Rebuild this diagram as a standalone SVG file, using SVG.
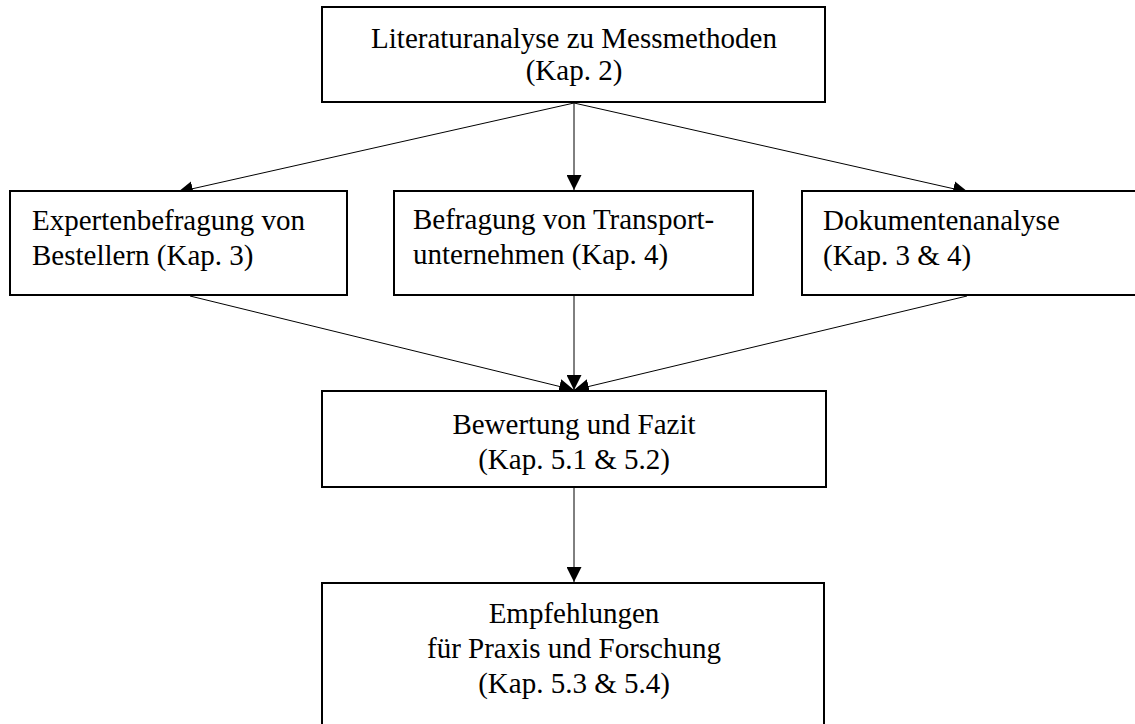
<svg xmlns="http://www.w3.org/2000/svg" width="1135" height="724" viewBox="0 0 1135 724">
<style>
.box{fill:#fff;stroke:#000;stroke-width:2}
.t{font-family:"Liberation Serif","Times New Roman",serif;font-size:29px;fill:#000}
.c{text-anchor:middle}
.conn{stroke:#000;stroke-width:1;fill:none;marker-end:url(#ah)}
</style>
<defs>
<marker id="ah" markerUnits="userSpaceOnUse" markerWidth="15" markerHeight="15" viewBox="0 0 15 15" refX="15" refY="7.5" orient="auto">
<path d="M0,0 L15,7.5 L0,15 z" fill="#000"/>
</marker>
</defs>
<rect width="1135" height="724" fill="#fff"/>
<g id="connectors">
<line class="conn" x1="574" y1="103" x2="178" y2="192"/>
<line class="conn" x1="574" y1="103" x2="574" y2="190"/>
<line class="conn" x1="574" y1="103" x2="968" y2="192"/>
<line class="conn" x1="190" y1="296" x2="574" y2="390"/>
<line class="conn" x1="574" y1="296" x2="574" y2="390"/>
<line class="conn" x1="967" y1="296" x2="574" y2="390"/>
<line class="conn" x1="574" y1="488" x2="574" y2="582"/>
</g>
<g id="n1">
<rect class="box" x="322" y="7" width="503" height="95"/>
<text class="t c" x="574" y="48">Literaturanalyse zu Messmethoden</text>
<text class="t c" x="574" y="80">(Kap. 2)</text>
</g>
<g id="n2">
<rect class="box" x="10" y="191" width="337" height="104"/>
<text class="t" x="32" y="230">Expertenbefragung von</text>
<text class="t" x="32" y="265">Bestellern (Kap. 3)</text>
</g>
<g id="n3">
<rect class="box" x="394" y="191" width="359" height="104"/>
<text class="t" x="413" y="229">Befragung von Transport-</text>
<text class="t" x="413" y="264">unternehmen (Kap. 4)</text>
</g>
<g id="n4">
<rect class="box" x="802" y="191" width="345" height="104"/>
<text class="t" x="823" y="230">Dokumentenanalyse</text>
<text class="t" x="823" y="265">(Kap. 3 &amp; 4)</text>
</g>
<g id="n5">
<rect class="box" x="322" y="391" width="504" height="96"/>
<text class="t c" x="574" y="434">Bewertung und Fazit</text>
<text class="t c" x="574" y="469">(Kap. 5.1 &amp; 5.2)</text>
</g>
<g id="n6">
<rect class="box" x="322" y="583" width="502" height="150"/>
<text class="t c" x="574" y="623">Empfehlungen</text>
<text class="t c" x="574" y="658">für Praxis und Forschung</text>
<text class="t c" x="574" y="693">(Kap. 5.3 &amp; 5.4)</text>
</g>
</svg>
